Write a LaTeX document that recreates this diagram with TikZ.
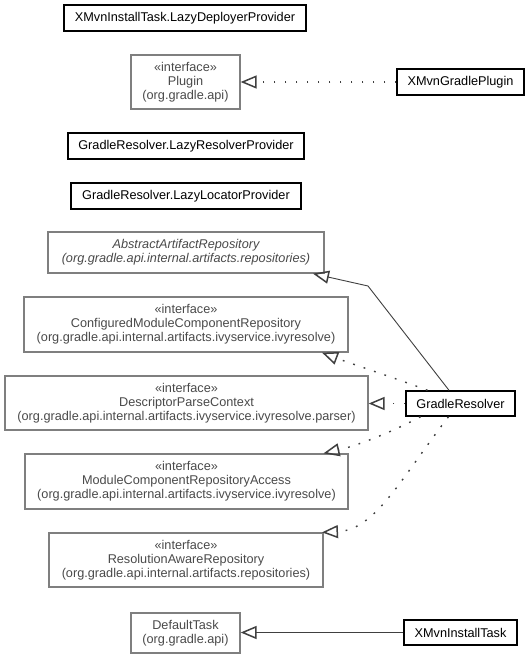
\documentclass[tikz,border=0pt]{standalone}
\usepackage{fontspec}
\setmainfont{Liberation Sans}
\usetikzlibrary{arrows.meta,calc}
\definecolor{extborder}{HTML}{7F7F7F}
\definecolor{exttext}{HTML}{4A4A4A}
\definecolor{conn}{HTML}{404040}
\tikzset{
  every node/.style={font=\fontsize{12.7}{14}\selectfont, inner sep=0pt, align=center},
  ownbox/.style={draw=black, line width=1.4pt, fill=white, text=black},
  extbox/.style={draw=extborder, line width=1.3pt, fill=white, text=exttext},
  gen/.style={draw=conn, line width=0.9pt, -{Triangle[open, length=16pt 0, width=13pt 0, line width=1.5pt]}},
  real/.style={gen, line width=1.4pt, dash pattern=on 1.8pt off 9.2pt},
}
\begin{document}
\begin{tikzpicture}[x=1pt,y=-1pt]
\useasboundingbox (0,0) rectangle (529,658);
\fill[white] (0,0) rectangle (529,658);

\node[ownbox, minimum width=242, minimum height=26] (LD) at (185,18) {XMvnInstallTask.LazyDeployerProvider};
\node[extbox, minimum width=109, minimum height=54] (PL) at (185.5,82) {«interface»\\Plugin\\(org.gradle.api)};
\node[ownbox, minimum width=127, minimum height=26] (XGP) at (460.5,82) {XMvnGradlePlugin};
\node[ownbox, minimum width=236, minimum height=26] (LR) at (186,146) {GradleResolver.LazyResolverProvider};
\node[ownbox, minimum width=230, minimum height=26] (LL) at (186,196) {GradleResolver.LazyLocatorProvider};
\node[extbox, minimum width=276, minimum height=41, font=\fontsize{12.7}{14}\selectfont\itshape] (AAR) at (186,252.5) {AbstractArtifactRepository\\(org.gradle.api.internal.artifacts.repositories)};
\node[extbox, minimum width=324, minimum height=55] (CMCR) at (186,324.5) {«interface»\\ConfiguredModuleComponentRepository\\(org.gradle.api.internal.artifacts.ivyservice.ivyresolve)};
\node[extbox, minimum width=363, minimum height=54] (DPC) at (186.5,403) {«interface»\\DescriptorParseContext\\(org.gradle.api.internal.artifacts.ivyservice.ivyresolve.parser)};
\node[ownbox, minimum width=109, minimum height=25] (GR) at (460.5,403.5) {GradleResolver};
\node[extbox, minimum width=323, minimum height=55] (MCRA) at (186.5,481.5) {«interface»\\ModuleComponentRepositoryAccess\\(org.gradle.api.internal.artifacts.ivyservice.ivyresolve)};
\node[extbox, minimum width=274, minimum height=54] (RAR) at (186,560) {«interface»\\ResolutionAwareRepository\\(org.gradle.api.internal.artifacts.repositories)};
\node[extbox, minimum width=109, minimum height=40] (DT) at (185.5,633) {DefaultTask\\(org.gradle.api)};
\node[ownbox, minimum width=113, minimum height=25] (XIT) at (460.5,632.5) {XMvnInstallTask};

\coordinate (bend) at (368,286);

\draw[real] (XGP.west) -- (XGP.west -| PL.east);
\draw[gen] ([xshift=-11.5pt]GR.north) -- (bend) -- ([xshift=127pt]AAR.south);
\draw[real] ([xshift=-33pt]GR.north) .. controls (392,377) and (352,364) .. ([xshift=136pt]CMCR.south);
\draw[real] (GR.west) -- (GR.west -| DPC.east);
\draw[real] ([xshift=-40pt]GR.south) .. controls (396,430) and (360,445) .. ([xshift=137pt]MCRA.north);
\draw[real] ([xshift=-12pt]GR.south) .. controls (400,480) and (375,530) .. ([xshift=136pt]RAR.north);
\draw[gen] (XIT.west) -- (XIT.west -| DT.east);
\end{tikzpicture}
\end{document}
